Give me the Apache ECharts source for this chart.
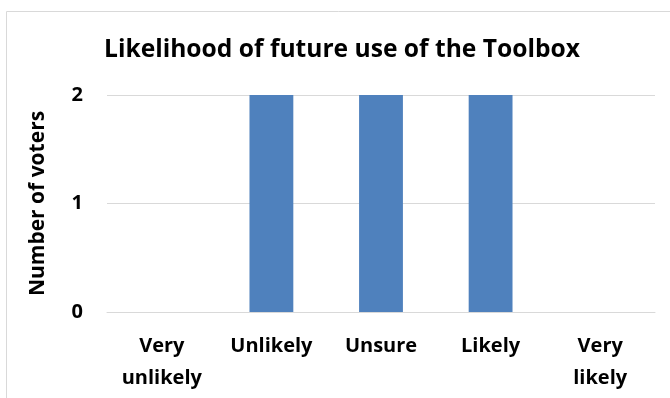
<!DOCTYPE html>
<html><head><meta charset="utf-8">
<script src="https://cdn.jsdelivr.net/npm/echarts@6/dist/echarts.min.js"></script>
<style>html,body{margin:0;padding:0;background:#fff}#c{width:670px;height:398px}</style>
</head><body><div id="c"></div>
<script>
var categories = ["Very\nunlikely", "Unlikely", "Unsure", "Likely", "Very\nlikely"];
var votes = [0, 2, 2, 2, 0];
var yTicks = [0, 1, 2];
var FONT = "Open Sans";
var chart = echarts.init(document.getElementById('c'));
chart.setOption({
  animation: false,
  graphic: [{type:'rect', shape:{x:6.5,y:11.5,width:700,height:500}, style:{fill:'none', stroke:'#d9d9d9', lineWidth:1}}],
  title: {text:"Likelihood of future use of the Toolbox", left:99, top:32,
    textStyle:{fontFamily:FONT, fontWeight:'bold', fontSize:24.6, color:'#000'}},
  grid: {left:107, right:15, top:95, bottom:86},
  xAxis: {type:'category', data:categories,
    axisLine:{show:true, lineStyle:{color:'#d9d9d9'}}, axisTick:{show:false},
    axisLabel:{fontFamily:FONT, fontWeight:'bold', fontSize:20, color:'#000', margin:18, lineHeight:32, interval:0}},
  yAxis: {type:'value', min:0, max:2, interval:1, name:'Number of voters', nameLocation:'middle', nameGap:58,
    nameTextStyle:{fontFamily:FONT, fontWeight:'bold', fontSize:21, color:'#000'},
    axisLabel:{fontFamily:FONT, fontWeight:'bold', fontSize:20, color:'#000', margin:24},
    splitLine:{lineStyle:{color:'#d9d9d9'}}, axisLine:{show:false}, axisTick:{show:false}},
  series: [{type:'bar', data:votes, barWidth:'40%', itemStyle:{color:'#4F81BD'}}]
});
</script></body></html>
